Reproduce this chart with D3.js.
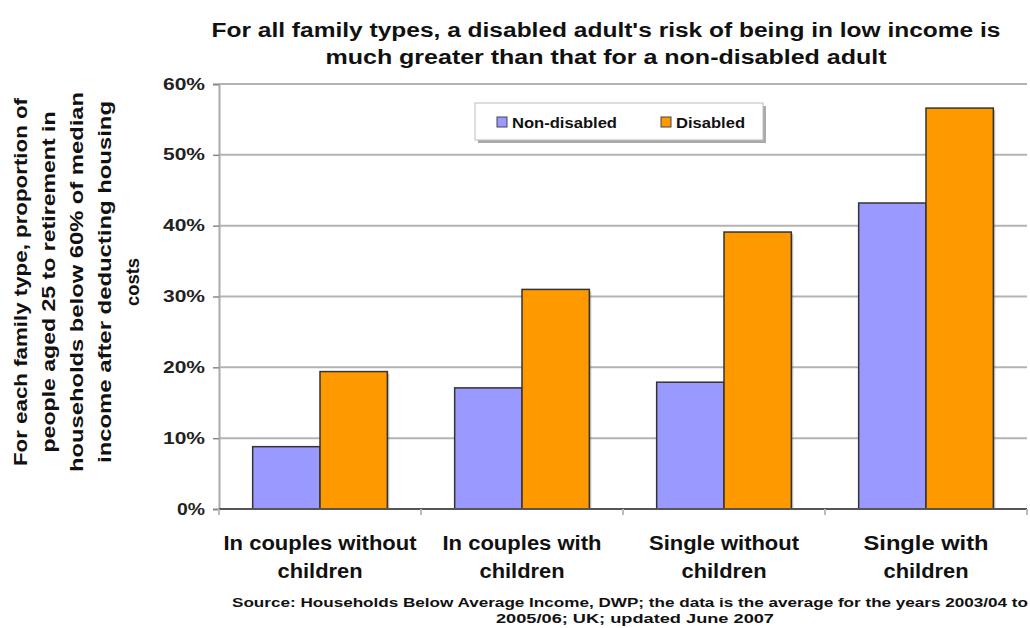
<!DOCTYPE html>
<html><head><meta charset="utf-8">
<script src="https://cdn.jsdelivr.net/npm/d3@7"></script>
<style>body{margin:0;background:#fff}svg{display:block;font-family:"Liberation Sans",Arial,sans-serif;font-weight:bold}</style>
</head><body><svg id="c" width="1030" height="628"></svg>
<script>
const categories = [["In couples without","children"],["In couples with","children"],["Single without","children"],["Single with","children"]];
const seriesNames = ["Non-disabled","Disabled"];
const nonDisabled = [8.8, 17.1, 17.9, 43.2];
const disabled = [19.4, 31.0, 39.1, 56.6];
const yTicks = [0,10,20,30,40,50,60];
const colors = ["#9999FF","#FF9900"];
const titleLines = ["For all family types, a disabled adult's risk of being in low income is","much greater than that for a non-disabled adult"];
const yTitleLines = ["For each family type, proportion of","people aged 25 to retirement in","households below 60% of median","income after deducting housing","costs"];
const sourceLines = ["Source: Households Below Average Income, DWP; the data is the average for the years 2003/04 to","2005/06; UK; updated June 2007"];

const titleW = [789, 561];
const yTitleW = [368, 341, 380, 362, 48];
const catW = [[193,85],[159,85],[150,85],[125,85]];
const sourceW = [796, 278];
const legendW = [105, 69];

const svg = d3.select("#c");
const L=219, R=1027, T=84, B=509;
const x = d3.scaleBand().domain(d3.range(categories.length)).range([L,R]).paddingInner(0).paddingOuter(0);
const xi = d3.scaleBand().domain([0,1]).range([0,x.bandwidth()]).paddingInner(0).paddingOuter(0.5);
const y = d3.scaleLinear().domain([0,60]).range([B,T]);

// gridlines
svg.append("g").selectAll("line").data(yTicks.filter(d=>d>0)).join("line")
  .attr("x1",L).attr("x2",R).attr("y1",d=>y(d)).attr("y2",d=>y(d))
  .attr("stroke","#b3b3b3").attr("stroke-width",2);

// y axis
const ya = svg.append("g").attr("transform",`translate(${L},0)`)
  .call(d3.axisLeft(y).tickValues(yTicks).tickFormat(d=>d+"%").tickSize(6).tickPadding(8));
ya.select(".domain").attr("stroke","#aaa").attr("stroke-width",2);
ya.selectAll(".tick line").attr("stroke","#888").attr("stroke-width",1.5);
ya.selectAll("text").attr("font-size",16).attr("font-weight","bold").attr("fill","#222")
  .attr("font-family","Liberation Sans, Arial, sans-serif")
  .attr("textLength",d=>d<10?28:42).attr("lengthAdjust","spacingAndGlyphs");

// bars
const data = categories.map((c,i)=>[nonDisabled[i],disabled[i]]);
const g = svg.append("g");
data.forEach((vals,i)=>{
  vals.forEach((v,s)=>{
    g.append("rect").attr("x",x(i)+xi(s)+2).attr("y",y(v)+2).attr("width",xi.bandwidth()).attr("height",B-y(v)-2)
      .attr("fill","#555").attr("opacity",0.35);
  });
  vals.forEach((v,s)=>{
    g.append("rect").attr("x",x(i)+xi(s)).attr("y",y(v)).attr("width",xi.bandwidth()).attr("height",B-y(v))
      .attr("fill",colors[s]).attr("stroke","#333").attr("stroke-width",1.5);
  });
});

// x baseline and ticks
svg.append("line").attr("x1",L).attr("x2",R).attr("y1",B).attr("y2",B).attr("stroke","#555").attr("stroke-width",2);
svg.append("g").selectAll("line").data(d3.range(categories.length+1)).join("line")
  .attr("x1",d=>L+d*x.bandwidth()).attr("x2",d=>L+d*x.bandwidth()).attr("y1",B).attr("y2",B+6)
  .attr("stroke","#bbb").attr("stroke-width",2);

// helper: one text element per line
function line(parent, txt, px, py, size, w, extra) {
  const t = parent.append("text").attr("x",px).attr("y",py).attr("text-anchor","middle")
    .attr("font-size",size).attr("fill","#111").text(txt);
  if (w) t.attr("textLength",w).attr("lengthAdjust","spacingAndGlyphs");
  return t;
}

// category labels
const cg = svg.append("g");
categories.forEach((c,i)=>c.forEach((l,k)=>line(cg,l,x(i)+x.bandwidth()/2,550+k*28,20,catW[i][k])));

// title
titleLines.forEach((l,i)=>line(svg,l,606,37+i*27,20,titleW[i]));

// y title
const yg = svg.append("g").attr("transform","translate(27,282) rotate(-90)");
yTitleLines.forEach((l,i)=>line(yg,l,0,i*28,19,yTitleW[i]));

// source
sourceLines.forEach((l,i)=>line(svg,l,i?635:630,607+i*16,13,sourceW[i]));

// legend
const lg = svg.append("g");
lg.append("rect").attr("x",478).attr("y",106).attr("width",288).attr("height",37).attr("fill","#aaa");
lg.append("rect").attr("x",475).attr("y",103).attr("width",288).attr("height",37).attr("fill","#fff").attr("stroke","#bbb").attr("stroke-width",1);
const lx=[497,661];
seriesNames.forEach((n,s)=>{
  lg.append("rect").attr("x",lx[s]).attr("y",117).attr("width",10).attr("height",10).attr("fill",colors[s]).attr("stroke","#444").attr("stroke-width",1);
  lg.append("text").attr("x",lx[s]+15).attr("y",128).attr("font-size",15).attr("fill","#111")
    .attr("textLength",legendW[s]).attr("lengthAdjust","spacingAndGlyphs").text(n);
});
</script></body></html>
